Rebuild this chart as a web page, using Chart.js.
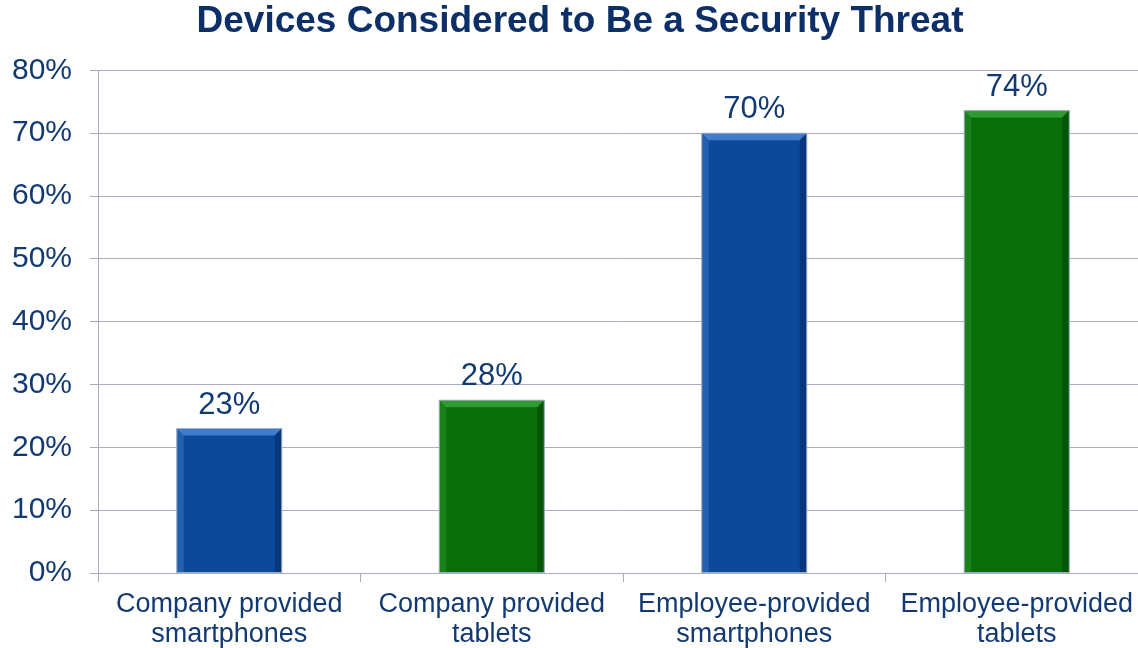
<!DOCTYPE html>
<html>
<head>
<meta charset="utf-8">
<script src="https://cdn.jsdelivr.net/npm/chart.js@4.4.1/dist/chart.umd.min.js"></script>
<style>
  html, body { margin: 0; padding: 0; background: #fff; overflow: hidden; }
  #wrap { width: 1168px; height: 648px; }
</style>
</head>
<body>
<div id="wrap"><canvas id="threatChart"></canvas></div>
<script>
// chart data
const categories = [
    ['Company provided', 'smartphones'],
    ['Company provided', 'tablets'],
    ['Employee-provided', 'smartphones'],
    ['Employee-provided', 'tablets']
];
const shares = [23, 27.5, 70, 73.6];
const yTicks = [0, 10, 20, 30, 40, 50, 60, 70, 80];

const navy = '#123a72';
const barColors = ['#0b4a9a', '#086e0a', '#0b4a9a', '#086e0a'];
const lightColors = ['#3f7ccc', '#2f9a2f', '#3f7ccc', '#2f9a2f'];
const darkColors = ['#063070', '#044a05', '#063070', '#044a05'];

// draws the little bevel edges on every bar, plus its value label
const bevelPlugin = {
    id: 'bevel',
    afterDatasetsDraw(chart) {
        const ctx = chart.ctx;
        chart.getDatasetMeta(0).data.forEach((bar, i) => {
            const left = bar.x - bar.width / 2;
            const right = bar.x + bar.width / 2;
            const top = bar.y;
            const bottom = bar.base;
            const b = 7;
            ctx.save();
            // top face
            ctx.fillStyle = lightColors[i];
            ctx.beginPath();
            ctx.moveTo(left, top); ctx.lineTo(right, top);
            ctx.lineTo(right - b, top + b); ctx.lineTo(left + b, top + b);
            ctx.closePath(); ctx.fill();
            // left face
            ctx.globalAlpha = 0.45;
            ctx.beginPath();
            ctx.moveTo(left, top); ctx.lineTo(left + b, top + b);
            ctx.lineTo(left + b, bottom); ctx.lineTo(left, bottom);
            ctx.closePath(); ctx.fill();
            // right face
            ctx.globalAlpha = 0.7;
            ctx.fillStyle = darkColors[i];
            ctx.beginPath();
            ctx.moveTo(right, top); ctx.lineTo(right - b, top + b);
            ctx.lineTo(right - b, bottom); ctx.lineTo(right, bottom);
            ctx.closePath(); ctx.fill();
            ctx.globalAlpha = 1;
            ctx.strokeStyle = '#a0aec4';
            ctx.lineWidth = 1;
            ctx.strokeRect(left, top, bar.width, bottom - top);
            // value label above the bar
            ctx.fillStyle = navy;
            ctx.font = '31px "Liberation Sans", Arial, sans-serif';
            ctx.textAlign = 'center';
            ctx.textBaseline = 'alphabetic';
            ctx.fillText(Math.round(shares[i]) + '%', bar.x, top - 15);
            ctx.restore();
        });
    }
};

const ctx = document.getElementById('threatChart').getContext('2d');

const threatChart = new Chart(ctx, {
    type: 'bar',
    data: {
        labels: categories,
        datasets: [{
            data: shares,
            backgroundColor: barColors,
            borderWidth: 0,
            categoryPercentage: 1.0,
            barPercentage: 0.4
        }]
    },
    options: {
        responsive: true,
        maintainAspectRatio: false,
        animation: false,
        layout: { padding: { top: 0, right: 20, left: 12, bottom: 0 } },
        plugins: {
            legend: { display: false },
            tooltip: { enabled: false },
            title: {
                display: true,
                text: 'Devices Considered to Be a Security Threat',
                color: '#0c2f68',
                font: { family: '"Liberation Sans", Arial, sans-serif', size: 37, weight: 'bold' },
                padding: { top: 0, bottom: 26 }
            }
        },
        scales: {
            x: {
                afterFit(axis) { axis.height = 75; },
                grid: {
                    display: true,
                    drawOnChartArea: false,
                    offset: true,
                    color: '#a8acbc',
                    tickLength: 9
                },
                border: { color: '#a8acbc' },
                ticks: {
                    color: navy,
                    font: { family: '"Liberation Sans", Arial, sans-serif', size: 27, lineHeight: 1.1 },
                    padding: 8,
                    maxRotation: 0
                }
            },
            y: {
                min: 0,
                max: 80,
                afterBuildTicks(axis) {
                    axis.ticks = yTicks.map(v => ({ value: v }));
                },
                afterFit(axis) { axis.width = 86; },
                grid: { color: '#a8acbc', tickLength: 8 },
                border: { color: '#a8acbc' },
                ticks: {
                    color: navy,
                    font: { family: '"Liberation Sans", Arial, sans-serif', size: 30 },
                    padding: 18,
                    callback: v => v + '%'
                }
            }
        }
    },
    plugins: [bevelPlugin]
});
</script>
</body>
</html>
